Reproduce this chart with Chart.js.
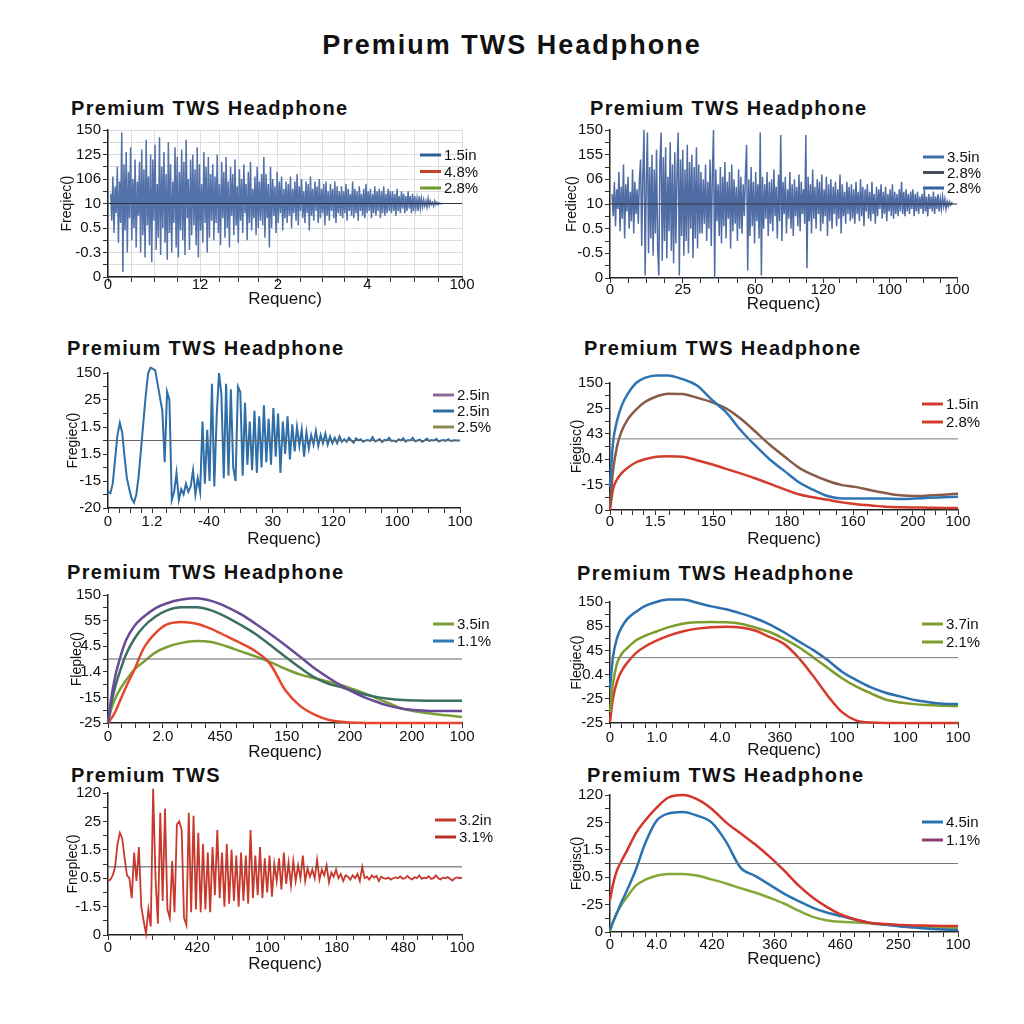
<!DOCTYPE html>
<html>
<head>
<meta charset="utf-8">
<title>Premium TWS Headphone</title>
<script src="https://cdn.jsdelivr.net/npm/chart.js@4.4.1/dist/chart.umd.min.js"></script>
<style>
  body { margin: 0; background: #fff; width: 1024px; height: 1024px; position: relative; overflow: hidden;
         font-family: "Liberation Sans", Arial, Helvetica, sans-serif; color: #111; }
  .ttl { position: absolute; font-weight: bold; white-space: nowrap; line-height: 1; font-size: 20px; letter-spacing: 1.3px; }
  .main { left: 0; width: 1024px; text-align: center; top: 32px; font-size: 27px; letter-spacing: 2px; }
</style>
</head>
<body>
<div class="ttl main">Premium TWS Headphone</div>
<div class="ttl" style="left:71px;top:98px">Premium TWS Headphone</div>
<div class="ttl" style="left:590px;top:98px">Premium TWS Headphone</div>
<div class="ttl" style="left:67px;top:338px">Premium TWS Headphone</div>
<div class="ttl" style="left:584px;top:338px">Premium TWS Headphone</div>
<div class="ttl" style="left:67px;top:562px">Premium TWS Headphone</div>
<div class="ttl" style="left:577px;top:563px">Premium TWS Headphone</div>
<div class="ttl" style="left:71px;top:765px">Premium TWS</div>
<div class="ttl" style="left:587px;top:765px">Premium TWS Headphone</div>
<script>
// 8-panel response sheet. y values are in axis-step units (0 = bottom label)

// ---- panel 1 : dense noise ----
const p1XLabels = ['0', '12', '2', '4', '100'];
const p1YLabels = ['150', '125', '106', '10', '0.5', '-0.3', '0'];
const p1Legend = ['1.5in', '4.8%', '2.8%'];
const p1Noise = [
  3.4, 2.3, 4.1, 1.8, 3.7, 2.6, 4.5, 1.4, 3.9, 2.2, 5.9, 0.2, 4.6, 1.9, 5.1, 1.0, 4.3, 2.4, 5.3, 1.5,
  4.0, 2.0, 4.8, 1.2,
  3.9, 2.5, 4.7, 1.0, 5.2, 1.7, 4.4, 0.8, 5.6, 2.1, 4.1, 1.3, 5.0, 0.6, 4.8, 2.3, 5.4, 1.1, 3.8, 1.6,
  5.7, 0.9, 4.5, 2.0, 5.1, 1.4, 4.2, 0.7, 5.5, 1.8, 4.6, 1.0, 3.9, 2.2, 5.3, 1.2, 4.9, 0.8, 4.3, 1.9,
  5.2, 1.5, 4.7, 0.9, 5.6, 2.4, 4.0, 1.1, 4.8, 1.7, 5.0, 2.1, 4.4, 1.3, 5.3, 0.8, 4.6, 1.9, 3.8, 1.4,
  5.1, 2.2, 4.5, 1.0, 4.9, 1.6, 4.2, 2.3,
  4.6, 1.5, 4.1, 2.2, 5.0, 1.8, 3.8, 1.3, 4.7, 2.4, 4.3, 1.6, 4.9, 2.0, 3.9, 1.2, 4.5, 2.5, 4.2, 1.7,
  4.8, 2.1, 3.7, 1.4, 4.4, 2.3, 4.0, 1.8, 4.6, 2.6, 3.8, 1.5, 4.3, 2.2, 4.7, 1.9, 3.6, 2.4, 4.1, 1.7,
  4.5, 2.0, 3.9, 2.3, 4.2,
  2.1, 4.9, 1.6, 4.2, 2.4, 3.8, 1.2, 4.5, 2.0, 4.0, 2.5, 3.7, 1.8, 4.3, 2.2, 3.9, 2.6, 4.1, 1.9, 3.6,
  2.4, 3.9,
  2.2, 3.8, 2.5, 4.1, 2.0, 3.6, 2.6, 3.9, 2.3, 4.2, 2.1, 3.7, 2.7, 4.0, 2.4, 3.5, 2.2, 3.9, 2.6, 3.8,
  1.9, 4.1, 2.5, 3.6, 2.3, 3.9, 2.7, 3.7, 2.2, 4.0, 2.4, 3.6, 2.6, 3.8, 2.1, 3.9, 2.5, 3.5, 2.3, 3.8,
  2.7, 3.6, 2.4, 3.9, 2.2, 3.7, 2.6, 3.5, 2.5,
  3.7, 2.4, 3.5, 2.6, 3.8, 2.3, 3.6, 2.7, 3.4, 2.5, 3.9, 2.4, 3.6, 2.6, 3.5, 2.3, 3.7, 2.7, 3.4, 2.5,
  3.6, 2.4, 3.8, 2.6, 3.5, 2.7, 3.6, 2.4, 3.4, 2.6, 3.7, 2.5, 3.5, 2.7, 3.6, 2.4, 3.5, 2.6, 3.7, 2.5,
  3.4, 2.6, 3.6, 2.7, 3.5,
  2.6, 3.5, 2.7, 3.4, 2.5, 3.6, 2.7, 3.3, 2.6, 3.5, 2.8, 3.4, 2.6, 3.3, 2.7, 3.5, 2.8, 3.3, 2.6, 3.4,
  2.7, 3.3, 2.8, 3.2, 2.7, 3.3, 2.8,
  3.2, 2.85, 3.15, 2.9, 3.1, 2.85, 3.2, 2.9, 3.1, 2.95, 3.05, 2.9, 3.1, 2.95, 3.05, 2.95, 3.02, 2.98,
  3.0, 3.0
];

// ---- panel 2 : dense noise with tall spikes ----
const p2XLabels = ['0', '25', '60', '120', '100', '100'];
const p2YLabels = ['150', '155', '06', '10', '0.5', '-0.5', '0'];
const p2Legend = ['3.5in', '2.8%', '2.8%'];
const p2Noise = [
  3.4, 2.5, 3.9, 2.1, 3.6, 2.8, 4.3, 1.9, 3.7, 2.4, 4.6, 1.6, 3.8, 2.7, 4.1, 2.0, 3.5, 2.3, 4.4, 1.8,
  3.9, 2.6, 3.6, 2.2, 4.0,
  4.8, 1.3, 4.2, 6.0, 0.1, 3.9, 5.9, 1.0, 4.5, 1.6, 5.0, 0.9, 4.4, 1.8, 5.2, 1.2, 0.1, 4.7, 5.9, 0.7,
  4.9, 1.5, 5.3, 0.8, 4.1, 1.9, 5.5, 1.1, 4.6, 0.6, 5.1, 1.4, 4.3, 5.9, 0.1, 4.8, 1.7, 5.2, 0.9, 4.4,
  1.5, 5.4, 1.0, 4.7, 2.0, 5.0, 0.8, 4.5, 1.6, 5.3, 1.2, 4.6, 1.8,
  4.3, 1.8, 4.0, 2.2, 4.6, 1.5, 3.9, 2.0, 4.8, 1.3, 4.2, 6.0, 0.0, 4.4, 2.3, 3.8, 1.7, 4.5, 1.4, 4.1,
  2.1, 4.7, 1.6, 3.9, 2.4, 4.3, 1.2, 4.6, 1.9, 4.0, 2.2, 3.7, 1.5, 4.4, 2.0, 4.1, 1.8, 3.8, 2.5, 4.2,
  5.4, 0.3, 4.0, 1.7, 4.5, 2.1, 3.9, 1.4, 4.3, 2.3, 3.8, 1.6, 5.9,
  0.1, 4.1, 2.0, 3.8, 2.4, 4.3, 1.7, 3.9, 2.2, 4.0, 1.9, 4.4, 2.5, 3.7, 1.6, 4.2, 2.3, 5.8, 1.5, 3.9,
  2.6, 4.1, 1.8, 3.6, 2.4, 4.3, 2.0, 3.8, 1.7, 4.0, 2.5, 3.7, 2.1, 4.2, 1.9, 3.9, 2.6, 3.6, 2.2, 5.8,
  0.4, 4.1, 2.3, 3.8, 1.8, 4.4, 2.4, 3.7, 2.0, 4.0, 2.6, 3.9, 1.9, 4.2, 2.2, 3.6, 2.5, 4.1, 1.7, 3.8,
  2.3, 4.0, 2.0, 3.7, 2.6, 3.9, 2.1, 3.6, 2.4, 4.2, 1.8, 3.8, 2.5, 3.5, 2.2, 3.9, 2.6, 3.7, 2.3,
  3.8, 2.4, 3.6, 2.2, 3.9, 2.6, 3.5, 2.3, 4.0, 2.5, 3.7, 2.1, 3.6, 2.7, 3.8, 2.4, 3.5, 2.3, 3.9, 2.6,
  3.4, 2.2, 3.7, 2.5, 3.6, 2.8, 3.8, 2.4, 3.5, 2.6, 3.7, 2.3, 3.4, 2.7, 3.6, 2.5, 3.8, 2.4, 3.5, 2.6,
  3.4, 2.5, 3.6, 2.7,
  3.9, 2.6, 3.5, 2.5, 3.6, 2.7, 3.4, 2.6, 3.5, 2.8, 3.6, 2.5, 3.4, 2.7, 3.5, 2.6, 3.3, 2.8, 3.4, 2.6,
  3.6, 2.7, 3.3, 2.5, 3.4, 2.8, 3.3, 2.7, 3.5, 2.6, 3.3, 2.8, 3.4, 2.7, 3.2, 2.8, 3.3, 2.9, 3.2, 2.8,
  3.1, 2.9, 3.1, 2.95, 3.05, 3.0
];

// ---- panel 3 : decaying oscillation ----
const p3XLabels = ['0', '1.2', '-40', '30', '120', '100', '100'];
const p3YLabels = ['150', '25', '1.5', '1.5', '-15', '-20'];
const p3Legend = ['2.5in', '2.5in', '2.5%'];
const p3Wave = [
  0.6, 0.55, 0.9, 1.8, 2.7, 3.15, 2.8, 1.9, 1.1, 0.7,
  0.35, 0.2, 0.5, 1.2, 2.2, 3.2, 4.2, 5.0, 5.2, 5.15,
  5.1, 4.6, 4.1, 3.6, 1.7, 4.3, 4.0, 0.3, 0.6, 1.3,
  0.3, 0.7, 0.5, 0.9, 0.6, 0.8, 1.4, 0.5, 1.1, 0.6,
  3.2, 0.9, 2.9, 1.0, 4.6, 0.8, 3.4, 5.0, 4.2, 1.1,
  4.6, 1.2, 4.4, 1.5, 1.0, 4.5, 4.3, 1.2, 3.9, 1.6,
  3.2, 1.4, 3.6, 1.3, 3.4, 1.5, 3.8, 1.7, 3.3, 1.6,
  3.7, 1.9, 3.5, 1.3, 3.2, 2.0, 3.4, 1.8, 3.1, 2.1,
  3.0, 2.3, 2.9, 1.9, 2.8, 2.2, 2.7, 2.35, 2.85, 2.3,
  2.7, 2.4, 2.75, 2.35, 2.65, 2.4, 2.6, 2.4, 2.65, 2.45,
  2.55, 2.45, 2.6, 2.5, 2.42, 2.58, 2.5, 2.55, 2.45, 2.5,
  2.52, 2.48, 2.62, 2.47, 2.5, 2.55, 2.44, 2.52, 2.5, 2.6,
  2.48, 2.5, 2.45, 2.55, 2.5, 2.58, 2.46, 2.52, 2.5, 2.6,
  2.47, 2.5, 2.53, 2.45, 2.5, 2.57, 2.48, 2.52, 2.5, 2.56,
  2.46, 2.5, 2.52, 2.49, 2.55, 2.48, 2.5, 2.51, 2.5, 2.5
];

// shared frequency grid for the smooth panels
const smoothX = [0, 0.05, 0.12, 0.2, 0.3, 0.45, 0.6, 0.8, 1, 1.25, 1.5, 1.75, 2, 2.25, 2.5,
  2.75, 3, 3.25, 3.5, 3.75, 4, 4.25, 4.5, 4.75, 5, 5.25, 5.5, 5.75, 6];

// ---- panel 4 ----
const p4XLabels = ['0', '1.5', '150', '180', '160', '200', '100'];
const p4YLabels = ['150', '25', '43', '0.4', '-15', '0'];
const p4Legend = ['1.5in', '2.8%'];
const p4Blue = [0.9, 2.6, 3.5, 4.1, 4.55, 5.0, 5.2, 5.3, 5.3, 5.15, 4.9, 4.35, 3.85, 3.15, 2.55,
  2.0, 1.55, 1.1, 0.8, 0.55, 0.45, 0.45, 0.45, 0.45, 0.43, 0.45, 0.48, 0.5, 0.52];
const p4Brown = [0.1, 1.5, 2.5, 3.1, 3.55, 3.95, 4.25, 4.47, 4.58, 4.57, 4.42, 4.25, 4.0, 3.6, 3.1,
  2.58, 2.12, 1.68, 1.38, 1.15, 0.98, 0.9, 0.78, 0.67, 0.58, 0.55, 0.57, 0.6, 0.64];
const p4Red = [0.0, 0.8, 1.2, 1.45, 1.65, 1.88, 2.0, 2.1, 2.12, 2.1, 1.96, 1.8, 1.62, 1.44, 1.25,
  1.04, 0.82, 0.62, 0.5, 0.4, 0.3, 0.23, 0.18, 0.13, 0.11, 0.1, 0.09, 0.08, 0.08];

// ---- panel 5 ----
const p5XLabels = ['0', '2.0', '450', '150', '200', '200', '100'];
const p5YLabels = ['150', '55', '4.5', '1.4', '-15', '-25'];
const p5Legend = ['3.5in', '1.1%'];
const p5Purple = [0.0, 0.9, 1.8, 2.5, 3.2, 3.8, 4.14, 4.48, 4.68, 4.82, 4.87, 4.77, 4.55, 4.25, 3.88,
  3.48, 3.05, 2.6, 2.14, 1.75, 1.4, 1.1, 0.87, 0.68, 0.56, 0.5, 0.47, 0.47, 0.47];
const p5Teal = [0.0, 0.7, 1.4, 2.0, 2.65, 3.3, 3.75, 4.15, 4.4, 4.52, 4.52, 4.4, 4.15, 3.83, 3.48,
  3.05, 2.6, 2.17, 1.78, 1.52, 1.37, 1.18, 1.04, 0.95, 0.9, 0.88, 0.87, 0.87, 0.87];
const p5Red = [0.0, 0.15, 0.42, 0.85, 1.38, 2.1, 2.9, 3.5, 3.85, 3.95, 3.88, 3.68, 3.4, 3.12, 2.8,
  2.3, 1.3, 0.68, 0.33, 0.12, 0.04, 0.01, 0.0, 0.0, 0.0, 0.0, 0.0, 0.0, 0.0];
const p5Green = [0.0, 0.5, 0.95, 1.3, 1.65, 2.1, 2.38, 2.75, 2.97, 3.13, 3.2, 3.16, 3.0, 2.8, 2.6,
  2.38, 2.12, 1.9, 1.75, 1.6, 1.45, 1.24, 1.02, 0.78, 0.55, 0.44, 0.36, 0.3, 0.23];

// ---- panel 6 ----
const p6XLabels = ['0', '1.0', '4.0', '360', '100', '100', '100'];
const p6YLabels = ['150', '85', '45', '0.4', '-25', '-25'];
const p6Legend = ['3.7in', '2.1%'];
const p6Blue = [1.45, 2.7, 3.5, 3.95, 4.3, 4.6, 4.83, 5.0, 5.1, 5.1, 4.97, 4.82, 4.7, 4.53, 4.33,
  4.08, 3.75, 3.38, 3.02, 2.6, 2.12, 1.77, 1.47, 1.25, 1.1, 0.95, 0.86, 0.8, 0.78];
const p6Green = [0.45, 1.6, 2.45, 2.85, 3.1, 3.42, 3.6, 3.78, 3.95, 4.1, 4.16, 4.17, 4.16, 4.1, 3.95,
  3.76, 3.48, 3.14, 2.72, 2.28, 1.85, 1.5, 1.22, 0.97, 0.85, 0.78, 0.74, 0.71, 0.7];
const p6Red = [0.05, 1.0, 1.7, 2.15, 2.5, 2.9, 3.15, 3.4, 3.6, 3.78, 3.9, 3.96, 3.98, 3.95, 3.82,
  3.56, 3.27, 2.7, 1.95, 1.14, 0.45, 0.1, 0.02, 0.0, 0.0, 0.0, 0.0, 0.0, 0.0];

// ---- panel 7 : decaying red oscillation ----
const p7XLabels = ['0', '420', '100', '180', '480', '100'];
const p7YLabels = ['120', '25', '1.5', '0.5', '-1.5', '0'];
const p7Legend = ['3.2in', '3.1%'];
const p7Wave = [
  1.9, 1.95, 2.1, 2.4, 3.2, 3.6, 3.4, 2.7, 2.1, 2.0,
  1.3, 2.9, 1.9, 3.1, 1.0, 0.5, 0.05, 0.9, 0.3, 5.15,
  2.0, 0.4, 4.3, 1.2, 4.45, 0.9, 0.6, 2.6, 0.8, 3.9,
  4.0, 3.7, 0.6, 0.35, 4.3, 0.8, 4.2, 0.9, 3.6, 0.8,
  3.2, 0.9, 2.9, 0.8, 3.1, 1.4, 3.7, 1.3, 2.9, 1.0,
  3.2, 1.1, 3.0, 1.2, 2.8, 1.0, 2.9, 1.2, 2.8, 1.1,
  3.7, 1.3, 2.8, 1.4, 3.1, 1.3, 2.7, 1.5, 2.8, 1.35,
  2.5, 1.9, 2.7, 1.6, 2.9, 1.8, 2.55, 1.75, 2.6, 1.9,
  2.45, 2.0, 2.8, 1.9, 2.35, 2.05, 2.3, 2.0, 2.65, 1.95,
  2.3, 2.1, 2.45, 1.85, 2.2, 2.05, 2.3, 2.0, 2.15, 1.9,
  2.1, 2.05, 1.95, 2.1, 2.0, 2.15, 1.9, 2.4, 2.0, 2.05,
  1.95, 2.1, 2.02, 2.08, 1.9, 2.05, 2.0, 1.98, 2.02, 1.95,
  2.0, 2.03, 2.0, 2.06, 1.98, 2.0, 2.08, 2.0, 1.96, 2.04,
  2.0, 2.1, 1.98, 2.02, 2.0, 2.07, 1.97, 2.0, 2.1, 2.0,
  1.96, 2.02, 2.0, 2.04, 1.98, 1.92, 2.0, 2.03, 2.0, 2.02
];

// ---- panel 8 ----
const p8XLabels = ['0', '4.0', '420', '360', '460', '250', '100'];
const p8YLabels = ['120', '25', '1.5', '0.5', '-25', '0'];
const p8Legend = ['4.5in', '1.1%'];
const p8Red = [1.17, 1.72, 2.25, 2.6, 3.0, 3.62, 4.05, 4.53, 4.9, 5.0, 4.85, 4.5, 4.0, 3.6, 3.2,
  2.75, 2.25, 1.7, 1.25, 0.9, 0.62, 0.45, 0.33, 0.29, 0.26, 0.24, 0.23, 0.22, 0.22];
const p8Blue = [0.07, 0.35, 0.7, 1.1, 1.55, 2.3, 3.2, 4.05, 4.32, 4.38, 4.25, 4.0, 3.3, 2.35, 2.05,
  1.73, 1.4, 1.13, 0.88, 0.7, 0.57, 0.44, 0.33, 0.26, 0.2, 0.16, 0.12, 0.09, 0.07];
const p8Green = [0.02, 0.35, 0.7, 1.0, 1.3, 1.7, 1.9, 2.05, 2.12, 2.12, 2.06, 1.92, 1.77, 1.6, 1.44,
  1.25, 1.04, 0.78, 0.55, 0.42, 0.37, 0.35, 0.31, 0.27, 0.24, 0.2, 0.18, 0.16, 0.15];

const FONT = '"Liberation Sans", Arial, Helvetica, sans-serif';

// sample index -> x position over the series' span
function spread(ys, x0, x1) {
  const step = (x1 - x0) / (ys.length - 1);
  return ys.map((y, i) => ({ x: x0 + i * step, y: y }));
}

function pair(xs, ys) {
  return xs.map((x, i) => ({ x: x, y: ys[i] }));
}

// labelled ticks at `at`, plus `sub - 1` blank minor ticks in each gap
function axisTicks(at, labels, sub) {
  const t = [];
  at.forEach((v, i) => {
    t.push({ value: v, lbl: labels[i] });
    if (i < at.length - 1) {
      for (let j = 1; j < sub; j++) t.push({ value: v + (at[i + 1] - v) * j / sub, lbl: '' });
    }
  });
  return t;
}

// legend drawn inside the plot, top right
const sideLegend = {
  id: 'sideLegend',
  afterDraw(chart, args, o) {
    const { ctx, chartArea } = chart;
    const x0 = chartArea.right - o.dx;
    o.labels.forEach((label, i) => {
      const y = chartArea.top + o.dy + i * o.gap;
      ctx.save();
      ctx.strokeStyle = o.colors[i];
      ctx.lineWidth = 3;
      ctx.beginPath();
      ctx.moveTo(x0, y);
      ctx.lineTo(x0 + 21, y);
      ctx.stroke();
      ctx.fillStyle = '#111';
      ctx.font = '15px ' + FONT;
      ctx.textBaseline = 'middle';
      ctx.fillText(label, x0 + 24, y + 1);
      ctx.restore();
    });
  }
};

const panels = [
  { plot: [108, 130, 462, 277], axisH: 33, tickPad: -6, yPad: 11, grid: true, base: 3, baseColor: '#333',
    xAt: [0, 1.04, 1.92, 2.93, 4], xLabels: p1XLabels, yLabels: p1YLabels, yTitle: 'Freqiec()',
    series: [{ data: spread(p1Noise, 0.03, 3.78), color: '#5472aa', width: 1.5 }],
    legend: { labels: p1Legend, colors: ['#2d5f94', '#c2432a', '#6f9a2d'], dx: 42, dy: 25, gap: 16.5 } },
  { plot: [610, 130, 957, 278], axisH: 37, tickPad: -2, yPad: 14, base: 3, baseColor: '#333',
    xAt: [0, 1.05, 2.09, 3.07, 4.03, 5], xLabels: p2XLabels, yLabels: p2YLabels, yTitle: 'Frediec()',
    series: [{ data: spread(p2Noise, 0.03, 4.94), color: '#506ca5', width: 1.5 }],
    legend: { labels: p2Legend, colors: ['#3b6fa8', '#4a4f5e', '#3560a0'], dx: 34, dy: 27, gap: 15.5 } },
  { plot: [108, 373, 460, 508], axisH: 42, tickPad: 0, yPad: 17, base: 2.5, baseColor: '#666',
    xAt: [0, 0.75, 1.72, 2.81, 3.84, 4.93, 6], xLabels: p3XLabels, yLabels: p3YLabels, yTitle: 'Fregiec()',
    series: [{ data: spread(p3Wave, 0, 6), color: '#2f6ea6', width: 2 }],
    legend: { labels: p3Legend, colors: ['#8a6a9a', '#2f6ea6', '#8a8a55'], dx: 27, dy: 22, gap: 16 } },
  { plot: [610, 383, 958, 510], axisH: 40, tickPad: -2, yPad: 19, base: 2.8, baseColor: '#777',
    xAt: [0, 0.78, 1.78, 3.05, 4.19, 5.22, 6], xLabels: p4XLabels, yLabels: p4YLabels, yTitle: 'Fiegisc()',
    series: [
      { data: pair(smoothX, p4Blue), color: '#2e74b5', width: 2.5, smooth: true },
      { data: pair(smoothX, p4Brown), color: '#8a5a48', width: 2.5, smooth: true },
      { data: pair(smoothX, p4Red), color: '#d23c2c', width: 2.5, smooth: true }],
    legend: { labels: p4Legend, colors: ['#d23c2c', '#d23c2c'], dx: 36, dy: 21, gap: 18 } },
  { plot: [108, 595, 462, 723], axisH: 40, tickPad: 0, yPad: 21, base: 2.5, baseColor: '#666',
    xAt: [0, 0.93, 1.9, 3.03, 4.1, 5.15, 6], xLabels: p5XLabels, yLabels: p5YLabels, yTitle: 'Fleplec()',
    series: [
      { data: pair(smoothX, p5Purple), color: '#684a98', width: 2.5, smooth: true },
      { data: pair(smoothX, p5Teal), color: '#3d6e62', width: 2.5, smooth: true },
      { data: pair(smoothX, p5Red), color: '#e5472d', width: 2.5, smooth: true },
      { data: pair(smoothX, p5Green), color: '#7b9f34', width: 2.5, smooth: true }],
    legend: { labels: p5Legend, colors: ['#7b9f34', '#2f7ab8'], dx: 29, dy: 29, gap: 17 } },
  { plot: [610, 602, 958, 723], axisH: 38, tickPad: 1, yPad: 19, base: 2.7, baseColor: '#777',
    xAt: [0, 0.81, 1.9, 2.93, 4.0, 5.09, 6], xLabels: p6XLabels, yLabels: p6YLabels, yTitle: 'Flegiec()',
    series: [
      { data: pair(smoothX, p6Blue), color: '#2c6fb0', width: 2.5, smooth: true },
      { data: pair(smoothX, p6Green), color: '#7c9c2c', width: 2.5, smooth: true },
      { data: pair(smoothX, p6Red), color: '#d83a2a', width: 2.5, smooth: true }],
    legend: { labels: p6Legend, colors: ['#7c9c2c', '#7c9c2c'], dx: 36, dy: 22, gap: 18 } },
  { plot: [108, 793, 462, 935], axisH: 40, tickPad: -1, yPad: 17, base: 2.4, baseColor: '#555',
    xAt: [0, 1.26, 2.25, 3.23, 4.17, 5], xLabels: p7XLabels, yLabels: p7YLabels, yTitle: 'Fneplec()',
    series: [{ data: spread(p7Wave, 0, 5), color: '#c8382c', width: 1.8 }],
    legend: { labels: p7Legend, colors: ['#c8382c', '#b8322a'], dx: 27, dy: 27, gap: 17 } },
  { plot: [610, 795, 958, 932], axisH: 38, tickPad: -1, yPad: 19, base: 2.5, baseColor: '#777',
    xAt: [0, 0.81, 1.76, 2.84, 3.97, 4.97, 6], xLabels: p8XLabels, yLabels: p8YLabels, yTitle: 'Fiegisc()',
    series: [
      { data: pair(smoothX, p8Red), color: '#d3352a', width: 2.5, smooth: true },
      { data: pair(smoothX, p8Blue), color: '#2b72b1', width: 2.5, smooth: true },
      { data: pair(smoothX, p8Green), color: '#84a83a', width: 2.5, smooth: true }],
    legend: { labels: p8Legend, colors: ['#2b72b1', '#8a3f70'], dx: 36, dy: 27, gap: 18 } }
];

function buildPanel(p) {
  const [l, t, r, b] = p.plot;
  const w = r - l + 60 + 45;
  const h = b - t + 12 + p.axisH;
  const canvas = document.createElement('canvas');
  canvas.width = w;
  canvas.height = h;
  canvas.style.cssText = `position:absolute;left:${l - 60}px;top:${t - 12}px;width:${w}px;height:${h}px`;
  document.body.appendChild(canvas);

  const xMax = p.xAt[p.xAt.length - 1];
  const yMax = p.yLabels.length - 1;
  const yAt = p.yLabels.map((_, i) => i);
  const yLbl = p.yLabels.slice().reverse();

  // reference line first so it paints on top
  const datasets = [{
    data: [{ x: 0, y: p.base }, { x: xMax, y: p.base }],
    borderColor: p.baseColor, borderWidth: 1, pointRadius: 0, tension: 0
  }].concat(p.series.map(s => ({
    data: s.data,
    borderColor: s.color,
    borderWidth: s.width,
    pointRadius: 0,
    clip: false,
    tension: s.smooth ? 0.4 : 0,
    cubicInterpolationMode: s.smooth ? 'monotone' : 'default'
  })));

  const gridOpts = {
    display: true,
    drawOnChartArea: !!p.grid,
    color: '#dcdcdc',
    tickColor: '#333',
    tickLength: 5,
    lineWidth: 1
  };

  return new Chart(canvas.getContext('2d'), {
    type: 'line',
    data: { datasets: datasets },
    options: {
      responsive: false,
      animation: false,
      events: [],
      layout: { padding: { left: 0, top: 12, right: 45, bottom: 0 } },
      plugins: {
        legend: { display: false },
        tooltip: { enabled: false },
        sideLegend: p.legend
      },
      scales: {
        x: {
          type: 'linear', min: 0, max: xMax,
          afterBuildTicks: s => { s.ticks = axisTicks(p.xAt, p.xLabels, 4); },
          afterFit: s => { s.height = p.axisH; },
          ticks: {
            autoSkip: false, maxRotation: 0, padding: p.tickPad, color: '#111',
            font: { size: 15, family: FONT },
            callback: (v, i, ticks) => ticks[i].lbl
          },
          grid: gridOpts,
          border: { color: '#222', width: 1.5 },
          title: { display: true, text: 'Requenc)', color: '#111', font: { size: 17, family: FONT }, padding: 0 }
        },
        y: {
          type: 'linear', min: 0, max: yMax,
          afterBuildTicks: s => { s.ticks = axisTicks(yAt, yLbl, 2); },
          afterFit: s => { s.width = 60; },
          ticks: {
            autoSkip: false, padding: 2, color: '#111',
            font: { size: 15, family: FONT },
            callback: (v, i, ticks) => ticks[i].lbl
          },
          grid: gridOpts,
          border: { color: '#222', width: 1.5 },
          title: { display: true, text: p.yTitle, color: '#111', font: { size: 14, family: FONT },
                   padding: { top: p.yPad, bottom: 0 } }
        }
      }
    },
    plugins: [sideLegend]
  });
}

panels.forEach(buildPanel);
</script>
</body>
</html>
